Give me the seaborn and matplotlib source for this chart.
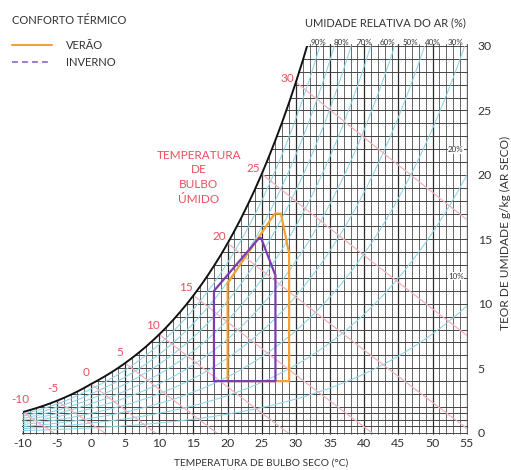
import numpy as np
import pandas as pd
import matplotlib
matplotlib.use("Agg")
import matplotlib.pyplot as plt
from matplotlib.lines import Line2D
from matplotlib.patches import Polygon
import seaborn as sns

# Dry-bulb temperature grid (°C) and saturation vapour pressure table (kPa)
temp_c = list(range(-10, 56))
p_sat_kpa = [0.2599, 0.2839, 0.3099, 0.3380, 0.3685, 0.4015, 0.4372, 0.4757, 0.5173, 0.5623,
             0.6112, 0.6571, 0.7060, 0.7581, 0.8135, 0.8725, 0.9353, 1.0020, 1.0729, 1.1481,
             1.2281, 1.3128, 1.4027, 1.4979, 1.5987, 1.7056, 1.8185, 1.9380, 2.0644, 2.1978,
             2.3388, 2.4877, 2.6447, 2.8104, 2.9850, 3.1690, 3.3629, 3.5670, 3.7818, 4.0078,
             4.2455, 4.4953, 4.7578, 5.0335, 5.3229, 5.6267, 5.9453, 6.2795, 6.6298, 6.9969,
             7.3814, 7.7840, 8.2054, 8.6463, 9.1075, 9.5898, 10.094, 10.620, 11.171, 11.745,
             12.344, 12.970, 13.623, 14.303, 15.012, 15.752]
p_atm_kpa = 101.325

rh_levels = [10, 20, 30, 40, 50, 60, 70, 80, 90]
wet_bulb_levels = [-10, -5, 0, 5, 10, 15, 20, 25, 30]
rh_top_labels = ["90%", "80%", "70%", "60%", "50%", "40%", "30%"]
rh_side_labels = ["20%", "10%"]

# Comfort zones (dry bulb °C, humidity g/kg)
verao_t = [20, 20, 26.9, 27.8, 29, 29, 20]
verao_w = [4, 11.6, 17.0, 17.0, 13.9, 4, 4]
inverno_t = [18, 18, 24.6, 24.9, 27, 27, 18]
inverno_w = [4, 11.0, 15.1, 15.1, 12.2, 4, 4]

x_ticks = list(range(-10, 56, 5))
y_ticks = list(range(0, 31, 5))

sns.set_theme(style="white")
plt.rcParams["font.family"] = ["Lato", "DejaVu Sans"]

TXT = "#333333"
RED = "#e8505c"
CYAN = "#8ad5e6"
PINK = "#f0b2bb"
ORANGE = "#f5a033"
PURPLE = "#7a3db5"

W, H = 511, 470
fig = plt.figure(figsize=(W / 100, H / 100), dpi=100)
x0, x1, y0, y1 = 22.7, 466.7, 46.0, 432.7
ax = fig.add_axes([x0 / W, 1 - y1 / H, (x1 - x0) / W, (y1 - y0) / H])
ax.set_xlim(-10, 55)
ax.set_ylim(0, 30)


def humidity_ratio(pv):
    return 622.0 * pv / (p_atm_kpa - pv)


t_arr = np.array(temp_c, dtype=float)
ps_arr = np.array(p_sat_kpa)
w_sat = humidity_ratio(ps_arr)

# Region under the saturation curve used to clip the grid
cap = np.minimum(w_sat, 30.15)
clip_verts = [(-10.1, -0.15), (-10.1, cap[0])] + list(zip(t_arr, cap)) + [(55.15, 30.15), (55.15, -0.15)]
clip_patch = Polygon(clip_verts, closed=True, transform=ax.transData)

# Grid: one line per degree and per g/kg
v_major = [t for t in temp_c if t % 5 == 0]
v_minor = [t for t in temp_c if t % 5 != 0]
h_levels = [0.5, 1.5] + list(range(0, 31))
for coll in (
    ax.vlines(v_minor, -1, 31, colors="#5e5e5e", linewidth=0.65),
    ax.vlines(v_major, -1, 31, colors="#2b2b2b", linewidth=0.9),
    ax.hlines(h_levels, -11, 56, colors="#454545", linewidth=0.7),
):
    coll.set_clip_path(clip_patch)
    coll.set_clip_box(None)

# Relative humidity curves
for rh in rh_levels:
    ax.plot(t_arr, humidity_ratio(rh / 100 * ps_arr), color=CYAN, linewidth=0.75, zorder=3)

# Wet-bulb lines
for twb in wet_bulb_levels:
    i = temp_c.index(twb)
    ws = w_sat[i] / 1000.0
    t_seg = t_arr[i:]
    if twb >= 0:
        w_line = ((2501 - 2.326 * twb) * ws - 1.006 * (t_seg - twb)) / (2501 + 1.86 * t_seg - 4.186 * twb)
    else:
        w_line = ((2830 - 0.24 * twb) * ws - 1.006 * (t_seg - twb)) / (2830 + 1.86 * t_seg - 2.1 * twb)
    ax.plot(t_seg, w_line * 1000, color=PINK, linewidth=0.9, zorder=3)

# Saturation curve
ax.plot(t_arr, w_sat, color="#111111", linewidth=1.4, zorder=5)

# Wet-bulb values next to the saturation curve
px_per_t = (x1 - x0) / 65
px_per_w = (y1 - y0) / 30
for twb in wet_bulb_levels:
    i = temp_c.index(twb)
    lo, hi = max(i - 1, 0), min(i + 1, len(temp_c) - 1)
    slope = (w_sat[hi] - w_sat[lo]) / (t_arr[hi] - t_arr[lo]) * px_per_w / px_per_t
    n = np.array([-slope, 1.0]) / np.hypot(slope, 1.0)
    ax.annotate(str(twb), xy=(twb, w_sat[i]), xytext=(n[0] * 9.5 * 0.72, n[1] * 13 * 0.72),
                textcoords="offset points", ha="center", va="center",
                color=RED, fontsize=8.5, zorder=6, annotation_clip=False)

# Comfort zones
zones = pd.concat([
    pd.DataFrame({"t": verao_t, "w": verao_w, "zona": "VERÃO", "ordem": range(len(verao_t))}),
    pd.DataFrame({"t": inverno_t, "w": inverno_w, "zona": "INVERNO", "ordem": range(len(inverno_t))}),
])
sns.lineplot(data=zones[zones.zona == "VERÃO"], x="t", y="w", sort=False, estimator=None,
             color=ORANGE, linewidth=1.6, ax=ax, legend=False, zorder=7)
sns.lineplot(data=zones[zones.zona == "INVERNO"], x="t", y="w", sort=False, estimator=None,
             color=PURPLE, linewidth=1.6, ax=ax, legend=False, zorder=8)
for ln in ax.lines[-2:]:
    ln.set_solid_joinstyle("round")

# Axes, ticks and labels
for s in ax.spines.values():
    s.set_visible(False)
ax.set_xticks(x_ticks)
ax.set_xticklabels([str(v) for v in x_ticks])
ax.yaxis.tick_right()
ax.set_yticks(y_ticks)
ax.set_yticklabels([str(v) for v in y_ticks])
ax.tick_params(axis="x", length=0, pad=4, labelsize=8.8, labelcolor=TXT)
ax.tick_params(axis="y", length=0, pad=8, labelsize=8.8, labelcolor=TXT)
ax.set_xlabel("")
ax.set_ylabel("")
ax.set_facecolor("none")

fig.text(261 / W, 1 - 463 / H, "TEMPERATURA DE BULBO SECO (°C)", ha="center", va="center",
         fontsize=7.4, color=TXT)
fig.text(505 / W, 1 - 233 / H, "TEOR DE UMIDADE g/kg (AR SECO)", ha="center", va="center",
         rotation=90, fontsize=8.6, color=TXT)
fig.text(12.5 / W, 1 - 20 / H, "CONFORTO TÉRMICO", ha="left", va="center", fontsize=8.0, color=TXT)
fig.text(385.5 / W, 1 - 22.7 / H, "UMIDADE RELATIVA DO AR (%)", ha="center", va="center",
         fontsize=8.0, color=TXT)

# Relative humidity labels
for lbl, tx in zip(rh_top_labels, np.linspace(33.3, 53.4, len(rh_top_labels))):
    ax.text(tx, 30.27, lbl, ha="center", va="center", fontsize=5.8, color=TXT, clip_on=False)
for lbl, wy in zip(rh_side_labels, [21.95, 12.15]):
    ax.text(53.4, wy, lbl, ha="center", va="center", fontsize=5.8, color=TXT, zorder=6,
            bbox=dict(facecolor="white", edgecolor="none", pad=0.3))

ax.text(15.8, 21.95, "TEMPERATURA\nDE\nBULBO\nÚMIDO", ha="center", va="top", fontsize=8.5,
        color=RED, linespacing=1.4, zorder=6)

# Legend
handles = [Line2D([], [], color=ORANGE, linewidth=1.5),
           Line2D([], [], color="#8a66c4", linewidth=1.2, linestyle=(0, (3.5, 2.5)))]
fig.legend(handles, ["VERÃO", "INVERNO"], loc="upper left", bbox_to_anchor=(12 / W, 1 - 40 / H),
           frameon=False, fontsize=8.0, handlelength=3.6, handletextpad=1.25, labelspacing=0.55,
           labelcolor=TXT, borderaxespad=0, borderpad=0)

fig.savefig("out.png", dpi=100, facecolor="white")
